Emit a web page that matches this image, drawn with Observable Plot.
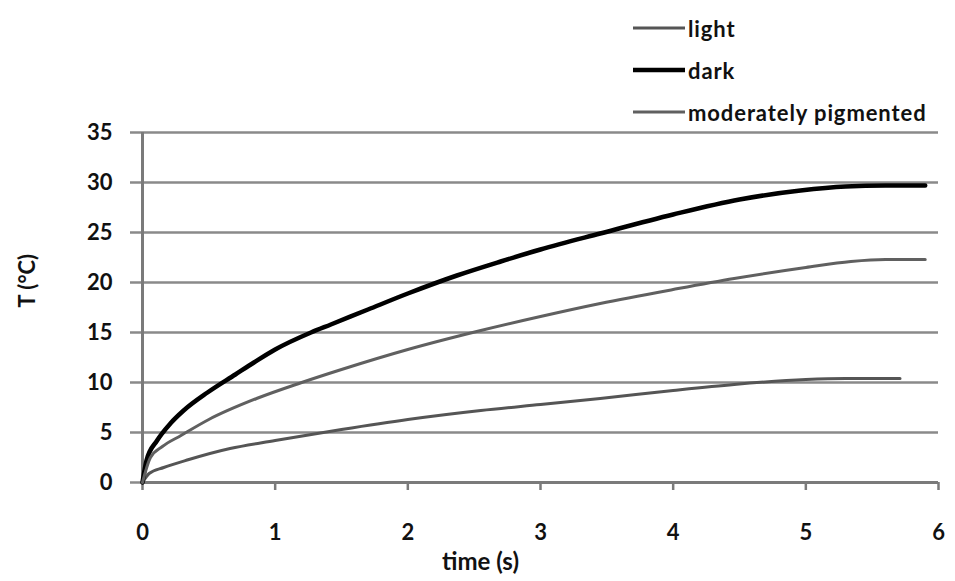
<!DOCTYPE html>
<html>
<head>
<meta charset="utf-8">
<script src="https://cdn.jsdelivr.net/npm/d3@7"></script>
<script src="https://cdn.jsdelivr.net/npm/@observablehq/plot@0.6"></script>
<style>
  html, body { margin: 0; padding: 0; background: #fff; }
  #wrap { position: relative; width: 955px; height: 581px; font-family: Lato, "Open Sans", sans-serif; font-weight: 700; }
  #legend { position: absolute; left: 0; top: 0; width: 955px; height: 125px; z-index: 2; pointer-events: none; }
  .item { position: absolute; left: 633px; display: flex; align-items: center; font-size: 22px; letter-spacing: 0.9px; color: #111; white-space: nowrap; }
  .item .sw { width: 52px; margin-right: 3px; }
  #chart { position: absolute; left: 0; top: 100px; z-index: 1; }
</style>
</head>
<body>
<div id="wrap">
  <div id="legend"></div>
  <div id="chart"></div>
</div>
<script>
const seriesNames = ["light", "dark", "moderately pigmented"];
const seriesColors = ["#555555", "#000000", "#606060"];
const seriesWidths = [3, 4.5, 3];

const lightTime = [0, 0.05, 0.16, 0.35, 0.66, 1.0, 1.5, 2.0, 2.55, 3.0, 3.45, 4.0, 4.46, 5.0, 5.3, 5.71];
const lightTemp = [0, 0.9, 1.5, 2.3, 3.4, 4.2, 5.3, 6.3, 7.2, 7.8, 8.4, 9.2, 9.8, 10.3, 10.4, 10.4];

const darkTime = [0, 0.03, 0.11, 0.21, 0.31, 0.49, 0.7, 0.84, 1.0, 1.27, 1.42, 1.7, 2.0, 2.37, 2.7, 3.0, 3.45, 4.0, 4.5, 4.96, 5.3, 5.6, 5.9];
const darkTemp = [0, 2.2, 4.2, 5.9, 7.2, 9.0, 10.8, 12.0, 13.3, 15.0, 15.8, 17.3, 18.9, 20.7, 22.1, 23.3, 24.9, 26.8, 28.3, 29.2, 29.6, 29.7, 29.7];

const modTime = [0, 0.06, 0.15, 0.29, 0.5, 0.86, 1.2, 1.5, 2.0, 2.55, 3.0, 3.45, 4.0, 4.46, 5.0, 5.34, 5.6, 5.9];
const modTemp = [0, 2.5, 3.6, 4.7, 6.3, 8.4, 10.0, 11.3, 13.3, 15.2, 16.6, 17.9, 19.3, 20.4, 21.5, 22.1, 22.3, 22.3];

const xTicks = [0, 1, 2, 3, 4, 5, 6];
const yTicks = [0, 5, 10, 15, 20, 25, 30, 35];

const toRows = (name, ts, vs) => ts.map((t, i) => ({series: name, t, T: vs[i]}));
const rows = [
  ...toRows("light", lightTime, lightTemp),
  ...toRows("dark", darkTime, darkTemp),
  ...toRows("moderately pigmented", modTime, modTemp)
];

// legend
const legend = document.getElementById("legend");
const legendTops = [28, 70, 112];
seriesNames.forEach((n, i) => {
  const d = document.createElement("div");
  d.className = "item";
  d.style.top = (legendTops[i] - 14) + "px";
  d.style.height = "28px";
  d.innerHTML = `<svg class="sw" width="52" height="10"><line x1="0" x2="52" y1="5" y2="5" stroke="${seriesColors[i]}" stroke-width="${seriesWidths[i]}"/></svg><span>${n}</span>`;
  legend.appendChild(d);
});

const chart = Plot.plot({
  width: 955,
  height: 481,
  marginLeft: 142,
  marginRight: 17,
  marginTop: 32,
  marginBottom: 99,
  style: {fontFamily: "Lato, 'Open Sans', sans-serif", fontWeight: 700, fontSize: "22px", color: "#111", background: "transparent", overflow: "visible"},
  x: {domain: [0, 6], ticks: xTicks, tickFormat: d3.format("d"), label: null},
  y: {domain: [0, 35], ticks: yTicks, tickFormat: d3.format("d"), label: null},
  marks: [
    Plot.ruleY(yTicks.filter(v => v > 0), {stroke: "#8a8a8a", strokeWidth: 2.5, strokeOpacity: 1}),
    Plot.axisY({ticks: yTicks, tickFormat: d3.format("d"), tickSize: 12, tickPadding: 18, stroke: "#8a8a8a", strokeWidth: 2.5, strokeOpacity: 1, label: null, fontSize: 22}),
    Plot.axisX({ticks: xTicks, tickFormat: d3.format("d"), tickSize: 8, tickPadding: 34, stroke: "#7a7a7a", strokeWidth: 2.5, strokeOpacity: 1, label: null, fontSize: 22}),
    Plot.ruleY([0], {stroke: "#7a7a7a", strokeWidth: 3}),
    Plot.ruleX([0], {stroke: "#7a7a7a", strokeWidth: 3}),
    Plot.line(rows, {
      x: "t", y: "T", z: "series",
      stroke: d => seriesColors[seriesNames.indexOf(d.series)],
      strokeWidth: d => seriesWidths[seriesNames.indexOf(d.series)],
      curve: "monotone-x"
    }),
    Plot.text(["time (s)"], {frameAnchor: "bottom", dy: 87, dx: -60, text: d => d, fontSize: 24, fontWeight: 700}),
    Plot.text(["T (°C)"], {frameAnchor: "left", dx: -115, rotate: -90, text: d => d, fontSize: 22, fontWeight: 700})
  ]
});
document.getElementById("chart").appendChild(chart);
</script>
</body>
</html>
